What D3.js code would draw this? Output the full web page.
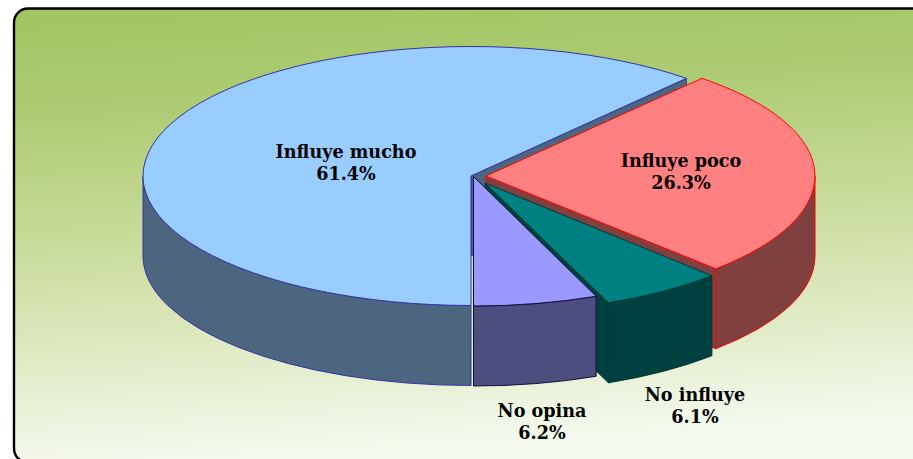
<!DOCTYPE html>
<html><head><meta charset="utf-8">
<script src="https://cdn.jsdelivr.net/npm/d3@7/dist/d3.min.js"></script>
<style>html,body{margin:0;padding:0;background:#fff;overflow:hidden}svg{display:block}</style>
</head><body><svg id="c" width="913" height="459"></svg>
<script>
const categories = ["Influye mucho","Influye poco","No influye","No opina"];
const values = [61.4,26.3,6.1,6.2];
const labels = ["61.4%","26.3%","6.1%","6.2%"];

// exploded-slice geometry, one entry per category
const apexX = [471,486,485,473.5];
const apexY = [176,176,183,176.5];
const radiusX = [328,329,325,323];
const radiusY = 129.5, depth = 80;
const topFill = ["#99ccff","#ff8080","#008080","#9999ff"];
const wallFill = ["#4d6680","#804040","#004040","#4d4d80"];
const strokeCol = ["#3333a6","#ff0000","#003a30","#10103a"];
const labelX = [346,681,695,542];
const labelY = [158,167,401,417];

const svg = d3.select("#c");
const defs = svg.append("defs");
const g = defs.append("linearGradient").attr("id","bg").attr("x1",0).attr("y1",0).attr("x2",0.12).attr("y2",1);
[[0,"#a1c562"],[0.22,"#adcb72"],[0.5,"#c7da98"],[0.75,"#dfe9c2"],[1,"#f4f9ee"]]
  .forEach(s=>g.append("stop").attr("offset",s[0]).attr("stop-color",s[1]));

svg.append("rect").attr("x",14).attr("y",8.5).attr("width",930).attr("height",454).attr("rx",14)
  .attr("fill","url(#bg)").attr("stroke","#000").attr("stroke-width",2.4);

const arcs = d3.pie().sort(null).startAngle(Math.PI).endAngle(3*Math.PI)(values);
const TAU = 2*Math.PI;

arcs.forEach((d,i)=>{
  const p = (t,dz=0)=>[apexX[i]+radiusX[i]*Math.sin(t), apexY[i]-radiusY*Math.cos(t)+dz];
  const apex = (dz=0)=>[apexX[i],apexY[i]+dz];
  const turn = d.startAngle>=TAU ? TAU : 0;
  const a=d.startAngle-turn, b=d.endAngle-turn;
  const rA=`${radiusX[i]} ${radiusY}`;
  const lg=(b-a)>Math.PI?1:0;
  const sl = svg.append("g").attr("class","slice").attr("stroke-linejoin","round");

  // radial wall on the closing edge of each slice
  if(i<3){
    sl.append("path")
      .attr("d",`M${apex()}L${p(b)}L${p(b,depth)}L${apex(depth)}Z`)
      .attr("fill",wallFill[i]).attr("stroke",strokeCol[i]);
  }
  // outer wall: only the front half of the ellipse
  const lo=Math.max(a,Math.PI/2), hi=Math.min(b,3*Math.PI/2);
  if(hi>lo){
    sl.append("path")
      .attr("d",`M${p(lo)}A${rA} 0 0 1 ${p(hi)}L${p(hi,depth)}A${rA} 0 0 0 ${p(lo,depth)}Z`)
      .attr("fill",wallFill[i]).attr("stroke",strokeCol[i]);
  }
  sl.append("path")
    .attr("d",`M${apex()}L${p(a)}A${rA} 0 ${lg} 1 ${p(b)}Z`)
    .attr("fill",topFill[i]).attr("stroke",strokeCol[i]);
});

const txt = svg.append("g").attr("font-family","'DejaVu Serif',serif").attr("font-weight","bold")
  .attr("font-size",17.6).attr("text-anchor","middle").attr("fill","#000");
categories.forEach((c,i)=>{
  txt.append("text").attr("x",labelX[i]).attr("y",labelY[i]).text(c);
  txt.append("text").attr("x",labelX[i]).attr("y",labelY[i]+22).text(labels[i]);
});
</script></body></html>
